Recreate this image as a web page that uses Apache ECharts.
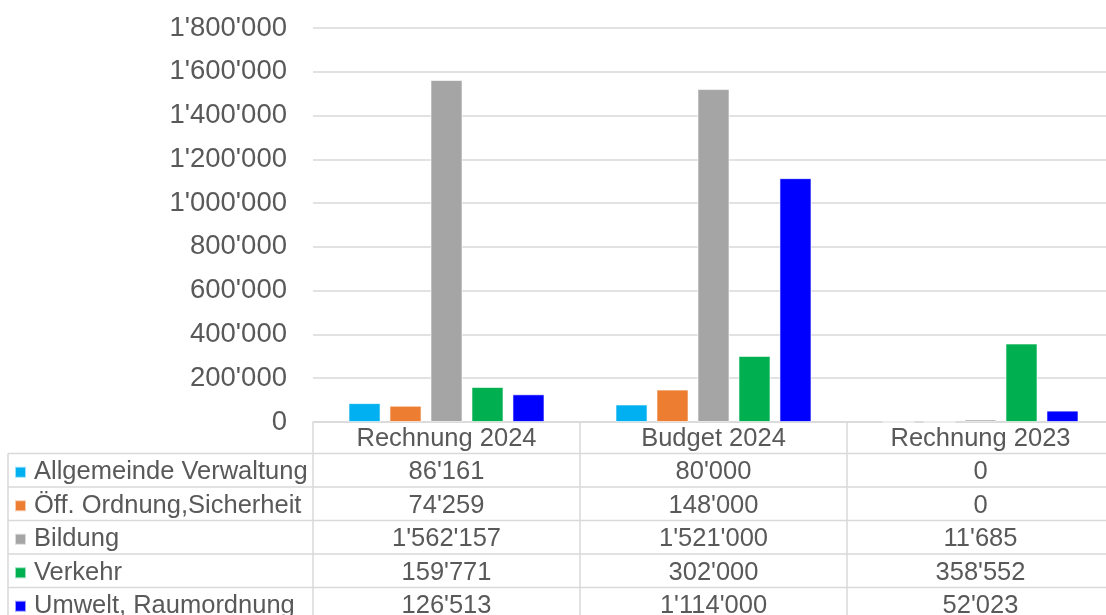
<!DOCTYPE html>
<html>
<head>
<meta charset="utf-8">
<script src="https://cdn.jsdelivr.net/npm/echarts@6/dist/echarts.min.js"></script>
<style>
  html, body { margin: 0; padding: 0; background: #fff; }
  #main { width: 1106px; height: 615px; }
</style>
</head>
<body>
<div id="main"></div>
<script>
// data
const categories = ['Rechnung 2024', 'Budget 2024', 'Rechnung 2023'];
const seriesNames = ['Allgemeinde Verwaltung', 'Öff. Ordnung,Sicherheit', 'Bildung', 'Verkehr', 'Umwelt, Raumordnung'];
const allgemeineVerwaltung = [86161, 80000, 0];
const oeffOrdnung = [74259, 148000, 0];
const bildung = [1562157, 1521000, 11685];
const verkehr = [159771, 302000, 358552];
const umwelt = [126513, 1114000, 52023];
const seriesValues = [allgemeineVerwaltung, oeffOrdnung, bildung, verkehr, umwelt];
const colors = ['#00B0F0', '#ED7D31', '#A5A5A5', '#00B050', '#0000FF'];
const yMin = 0, yMax = 1800000, yStep = 200000;

const FONT = 'Liberation Sans, Arial, sans-serif';
const TXT = '#595959';
const LINE = '#d9d9d9';

// layout of the plot + data table
const gridLeft = 313, gridTop = 28, gridWidth = 801, axisY = 422;
const rowTop = 453.5, rowH = 33.5;

function fmt(v) {
  return String(Math.round(v)).replace(/\B(?=(\d{3})+(?!\d))/g, "'");
}

var chart = echarts.init(document.getElementById('main'));

var xAxes = [{
  type: 'category',
  data: categories,
  gridIndex: 0,
  position: 'bottom',
  axisLine: { show: true, lineStyle: { color: LINE, width: 1.5 } },
  axisTick: { show: true, length: 200, lineStyle: { color: LINE, width: 1.5 } },
  axisLabel: { show: true, interval: 0, margin: 17, verticalAlign: 'middle', color: TXT, fontSize: 25.5, fontFamily: FONT }
}];
// one extra axis per table row, values centered under each category
seriesValues.forEach(function (vals, i) {
  xAxes.push({
    type: 'category',
    data: categories,
    gridIndex: 0,
    position: 'bottom',
    offset: rowTop + rowH * (i + 0.5) - axisY + 2,
    axisLine: { show: false },
    axisTick: { show: false },
    axisLabel: {
      show: true, interval: 0, margin: 0, verticalAlign: 'middle',
      color: TXT, fontSize: 25.5, fontFamily: FONT,
      formatter: function (v, idx) { return fmt(vals[idx]); }
    }
  });
});

var tableLines = [];
for (var r = 0; r < 5; r++) {
  var y = rowTop + rowH * r;
  tableLines.push({ type: 'line', shape: { x1: 8, y1: y, x2: 1106, y2: y }, style: { stroke: LINE, lineWidth: 1.5 } });
}
tableLines.push({ type: 'line', shape: { x1: 8, y1: rowTop, x2: 8, y2: 615 }, style: { stroke: LINE, lineWidth: 1.5 } });

var option = {
  backgroundColor: '#fff',
  animation: false,
  color: colors,
  grid: { left: gridLeft, top: gridTop, width: gridWidth, height: axisY - gridTop, outerBoundsMode: 'none', containLabel: false },
  legend: {
    orient: 'vertical',
    left: 14,
    top: rowTop + 2,
    height: 300,
    padding: 0,
    itemGap: 0,
    itemWidth: 11,
    itemHeight: 11,
    icon: 'rect',
    data: seriesNames,
    textStyle: { color: TXT, fontSize: 25.5, fontFamily: FONT, lineHeight: rowH, padding: [0, 0, 0, 3] }
  },
  xAxis: xAxes,
  yAxis: {
    type: 'value',
    min: yMin,
    max: yMax,
    interval: yStep,
    axisLine: { show: false },
    axisTick: { show: false },
    splitLine: { lineStyle: { color: LINE, width: 1.5 } },
    axisLabel: { margin: 26, color: TXT, fontSize: 27.5, fontFamily: FONT, formatter: fmt }
  },
  graphic: tableLines,
  series: seriesNames.map(function (name, i) {
    return {
      name: name,
      type: 'bar',
      data: seriesValues[i],
      barCategoryGap: '26.6%',
      barGap: '28%',
      itemStyle: { color: colors[i], borderColor: 'rgba(255,255,255,0.6)', borderWidth: 1 }
    };
  })
};
chart.setOption(option);
</script>
</body>
</html>
